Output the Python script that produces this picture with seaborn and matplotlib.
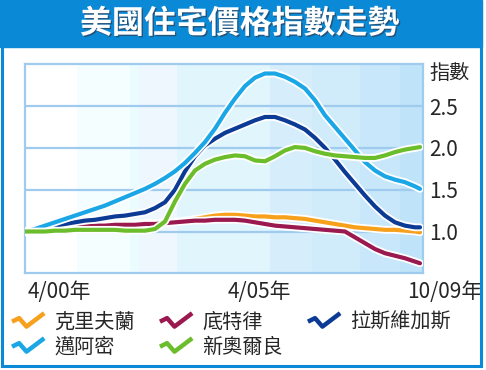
"""US house price index trend chart (2000-2010)."""

import numpy as np
import pandas as pd
import matplotlib
matplotlib.use("Agg")
import matplotlib.pyplot as plt
import matplotlib.patheffects as pe
from matplotlib.lines import Line2D
from matplotlib.patches import Rectangle
from matplotlib.legend_handler import HandlerBase
from matplotlib.transforms import ScaledTranslation
import seaborn as sns

# ---- data: quarterly from 4/2000, index values ----
years = list(np.arange(2000.25, 2010.2, 0.25)[:40]) + [2010.125]

cleveland = [1.00, 1.02, 1.03, 1.04, 1.05, 1.06, 1.07, 1.07, 1.08, 1.08,
             1.09, 1.09, 1.10, 1.10, 1.11, 1.12, 1.13, 1.15, 1.17, 1.19,
             1.20, 1.20, 1.19, 1.18, 1.18, 1.17, 1.17, 1.16, 1.15, 1.13,
             1.11, 1.09, 1.07, 1.05, 1.04, 1.03, 1.02, 1.02, 1.01, 1.00, 0.99]
detroit = [0.99, 1.01, 1.02, 1.04, 1.05, 1.06, 1.06, 1.07, 1.07, 1.08,
           1.08, 1.08, 1.09, 1.09, 1.10, 1.11, 1.12, 1.13, 1.13, 1.14,
           1.14, 1.14, 1.13, 1.11, 1.09, 1.07, 1.06, 1.05, 1.04, 1.03,
           1.02, 1.01, 1.00, 0.93, 0.86, 0.79, 0.74, 0.71, 0.68, 0.64, 0.62]
las_vegas = [1.00, 1.02, 1.05, 1.07, 1.09, 1.11, 1.13, 1.14, 1.16, 1.18,
             1.19, 1.21, 1.23, 1.28, 1.35, 1.50, 1.72, 1.90, 2.03, 2.11,
             2.18, 2.23, 2.28, 2.33, 2.37, 2.37, 2.33, 2.28, 2.22, 2.12,
             2.00, 1.86, 1.71, 1.57, 1.43, 1.30, 1.19, 1.11, 1.07, 1.05, 1.05]
miami = [1.00, 1.03, 1.07, 1.11, 1.15, 1.19, 1.23, 1.27, 1.31, 1.36,
         1.41, 1.46, 1.51, 1.57, 1.64, 1.72, 1.82, 1.94, 2.07, 2.23,
         2.42, 2.59, 2.74, 2.84, 2.89, 2.89, 2.85, 2.79, 2.71, 2.57,
         2.39, 2.25, 2.11, 1.97, 1.83, 1.73, 1.66, 1.62, 1.59, 1.54, 1.51]
new_orleans = [1.00, 1.00, 1.00, 1.01, 1.01, 1.02, 1.02, 1.02, 1.02, 1.02,
               1.01, 1.01, 1.01, 1.03, 1.12, 1.36, 1.57, 1.73, 1.81, 1.86,
               1.89, 1.91, 1.90, 1.85, 1.84, 1.90, 1.97, 2.01, 2.00, 1.96,
               1.93, 1.91, 1.90, 1.89, 1.88, 1.88, 1.91, 1.95, 1.98, 2.00, 2.01]

names = ["克里夫蘭", "底特律", "拉斯維加斯", "邁阿密", "新奧爾良"]
series = [cleveland, detroit, las_vegas, miami, new_orleans]
colors = ["#f7a01c", "#9a1a4f", "#0c3b96", "#1ba6e6", "#6cbd2b"]

xtick_pos = [2000.25, 2005.25, 2009.75]
xtick_labels = ["4/00年", "4/05年", "10/09年"]
ytick_pos = [1.0, 1.5, 2.0, 2.5]

# background colour bands (edges in years, colours)
band_edges = [2000.25, 2001.55, 2002.875, 2003.1, 2004.05, 2006.375,
              2007.425, 2008.625, 2009.625, 2010.2]
band_colors = ["#ffffff", "#f4fdff", "#ebfcff", "#eef6fe", "#e1f5fd",
               "#d6eefc", "#d0ecfb", "#c8e7fa", "#bfe3f8"]

BLUE = "#0a8ad6"
GRID = "#9fcbee"

sns.set_style("white")
plt.rcParams["font.family"] = ["Noto Sans CJK TC", "DejaVu Sans"]


class ZigHandler(HandlerBase):
    """Draws the little check-mark shaped legend key."""

    def create_artists(self, legend, orig_handle, xdescent, ydescent,
                       width, height, fontsize, trans):
        xs = np.array([0.0, 0.22, 0.45, 1.0]) * width - xdescent
        ys = np.array([0.45, 0.7, 0.1, 1.05]) * height - ydescent
        line = Line2D(xs, ys, color=orig_handle.get_color(), lw=3.2,
                      solid_joinstyle="round", solid_capstyle="butt")
        line.set_transform(trans)
        return [line]


fig = plt.figure(figsize=(4.86, 3.70), dpi=100)
W, H = 486, 370

# title bar and outer frame
fig.patches.append(Rectangle((0, 1 - 47 / H), 482 / W, 47 / H, color=BLUE,
                             transform=fig.transFigure, zorder=0))
fig.patches.append(Rectangle((1.5 / W, 4.5 / H), 479 / W, (H - 6) / H,
                             fill=False, edgecolor=BLUE, lw=2.2,
                             transform=fig.transFigure, zorder=0))
fig.text(240 / W, 1 - 24 / H, "美國住宅價格指數走勢", color="white",
         fontsize=23, fontweight="bold", ha="center", va="center",
         path_effects=[pe.withSimplePatchShadow(offset=(1, -1),
                                                shadow_rgbFace="#334",
                                                alpha=0.6)])

ax = fig.add_axes([25 / W, 1 - 273.3 / H, 398 / W, 209 / H])

for left, right, c in zip(band_edges[:-1], band_edges[1:], band_colors):
    ax.axvspan(left, right, color=c, lw=0, zorder=0)

outline = [pe.Stroke(linewidth=5.6, foreground="white"), pe.Normal()]
draw_order = [0, 1, 4, 3, 2]
for i in draw_order:
    df = pd.DataFrame({"year": years, "index": series[i]})
    sns.lineplot(data=df, x="year", y="index", color=colors[i], lw=3.0,
                 ax=ax, legend=False, path_effects=outline, zorder=3 + i,
                 solid_capstyle="round", solid_joinstyle="round")

ax.set_xlim(2000.25, 2010.2)
ax.set_ylim(0.5, 3.0)
ax.set_xlabel("")
ax.set_ylabel("")

ax.grid(axis="y", color=GRID, lw=1.6, zorder=1)
ax.grid(axis="x", visible=False)
for sp in ax.spines.values():
    sp.set_color(GRID)
    sp.set_linewidth(1.6)

ax.yaxis.tick_right()
ax.set_yticks(ytick_pos)
ax.set_yticklabels([f"{v:.1f}" for v in ytick_pos])
ax.tick_params(axis="y", length=0, pad=4.5, labelsize=15)

ax.set_xticks(xtick_pos)
ax.set_xticklabels(xtick_labels, ha="left")
ax.tick_params(axis="x", direction="out", length=20, width=1.6, color=GRID,
               pad=-14.5, labelsize=15)
offset = ScaledTranslation(2.5 / 100, 0, fig.dpi_scale_trans)
for lab in ax.get_xticklabels():
    lab.set_transform(lab.get_transform() + offset)

ax.text(1.015, 0.958, "指數", transform=ax.transAxes, ha="left",
        va="center", fontsize=14.5)

# legend: column-major order so rows read like the original
legend_order = [0, 3, 1, 4, 2]
handles = [Line2D([], [], color=colors[i]) for i in legend_order]
labels = [names[i] for i in legend_order]
fig.legend(handles, labels, handler_map={Line2D: ZigHandler()}, ncol=3,
           loc="upper left", bbox_to_anchor=(12 / W, 1 - 312 / H),
           frameon=False, fontsize=14.5, handlelength=1.6,
           handletextpad=0.5, columnspacing=1.25, labelspacing=0.2,
           borderpad=0, borderaxespad=0)

fig.savefig("out.png", dpi=100)
